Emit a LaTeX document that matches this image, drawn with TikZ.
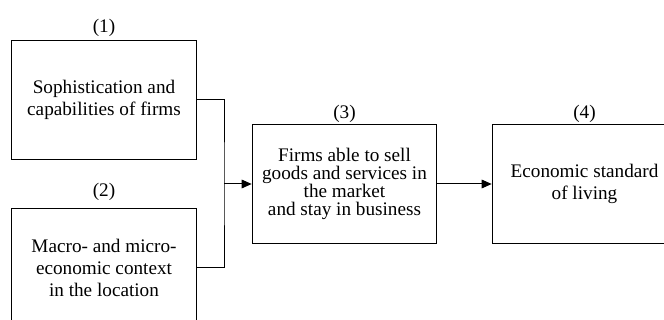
\documentclass[tikz,border=0pt]{standalone}
\usepackage{fontspec}
\setmainfont{Liberation Serif}
\usetikzlibrary{positioning, arrows.meta}

\begin{document}
\begin{tikzpicture}[x=0.75pt, y=-0.75pt,
    box/.style={draw, line width=0.75pt, minimum width=138.5pt, minimum height=89.5pt,
        align=center, inner sep=0pt, font=\fontsize{14.4}{16.5}\selectfont},
    num/.style={inner sep=0pt, font=\fontsize{14.4}{16.5}\selectfont},
    link/.style={line width=0.75pt},
    arrow/.style={link, -{Triangle[length=7.5pt, width=6.5pt]}}]
    \path[use as bounding box, clip] (0,0) rectangle (664,320);
    \node[box] (firms)   at (104,100)   {Sophistication and\\capabilities of firms};
    \node[box] (context) at (104,268)   {Macro- and micro-\\economic context\\in the location};
    \node[box, font=\fontsize{14.4}{13.7}\selectfont] (market) at (344.5,184)
        {Firms able to sell\\goods and services in\\the market\\and stay in business};
    \node[box] (living)  at (584.5,184) {Economic standard\\of living};
    \node[num, above=2.25pt of firms]   (n1) {(1)};
    \node[num, above=5pt of context]    (n2) {(2)};
    \node[num, above=0.75pt of market]  (n3) {(3)};
    \node[num, above=0.75pt of living]  (n4) {(4)};
    \coordinate (join) at (224,184);
    \draw[link] (firms.east) -| (join) |- (context.east);
    \draw[arrow] (join) -- (market.west);
    \draw[arrow] (market.east) -- (living.west);
\end{tikzpicture}
\end{document}
